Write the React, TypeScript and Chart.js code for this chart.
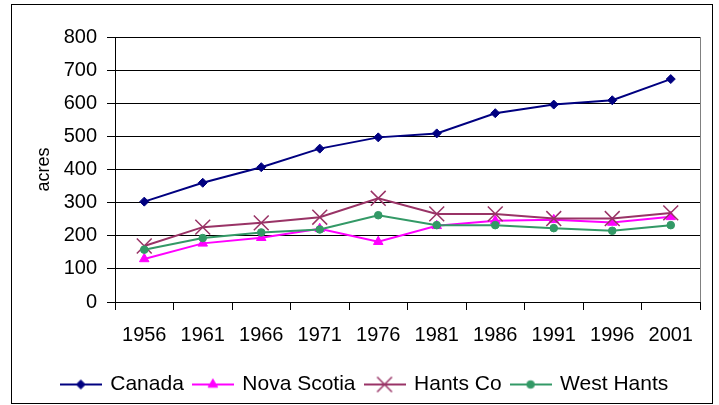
import React, { useEffect, useRef } from "react";
import { Chart, registerables } from "chart.js";

Chart.register(...registerables);

const years = ["1956", "1961", "1966", "1971", "1976", "1981", "1986", "1991", "1996", "2001"];
const canada = [303, 360, 407, 463, 497, 509, 570, 596, 609, 673];
const novaScotia = [130, 177, 194, 221, 182, 230, 245, 248, 240, 257];
const hantsCo = [169, 226, 239, 256, 313, 266, 266, 252, 252, 269];
const westHants = [158, 193, 210, 219, 262, 232, 232, 223, 215, 232];
const yMin = 0;
const yMax = 800;
const yStep = 100;

const FONT = "'Liberation Sans', Arial, sans-serif";

function drawMarker(ctx: CanvasRenderingContext2D, style: string, x: number, y: number, r: number, color: string, lw: number) {
  ctx.save();
  ctx.fillStyle = color;
  ctx.strokeStyle = color;
  ctx.lineWidth = lw;
  ctx.beginPath();
  if (style === "rectRot") {
    ctx.moveTo(x - r, y);
    ctx.lineTo(x, y - r);
    ctx.lineTo(x + r, y);
    ctx.lineTo(x, y + r);
    ctx.closePath();
    ctx.fill();
    ctx.stroke();
  } else if (style === "triangle") {
    const a = (2 * Math.PI) / 3;
    ctx.moveTo(x, y - r);
    ctx.lineTo(x + Math.sin(a) * r, y - Math.cos(a) * r);
    ctx.lineTo(x + Math.sin(2 * a) * r, y - Math.cos(2 * a) * r);
    ctx.closePath();
    ctx.fill();
    ctx.stroke();
  } else if (style === "crossRot") {
    const o = Math.cos(Math.PI / 4) * r;
    ctx.moveTo(x - o, y - o);
    ctx.lineTo(x + o, y + o);
    ctx.moveTo(x + o, y - o);
    ctx.lineTo(x - o, y + o);
    ctx.stroke();
  } else {
    ctx.arc(x, y, r, 0, Math.PI * 2);
    ctx.closePath();
    ctx.fill();
    ctx.stroke();
  }
  ctx.restore();
}

function makeIcon(color: string, style: string, r: number, markerLw: number): HTMLCanvasElement {
  const c = document.createElement("canvas");
  c.width = 42;
  c.height = 22;
  const ctx = c.getContext("2d")!;
  ctx.strokeStyle = color;
  ctx.lineWidth = 2;
  ctx.beginPath();
  ctx.moveTo(0, 11);
  ctx.lineTo(42, 11);
  ctx.stroke();
  drawMarker(ctx, style, 21, 11, r, color, markerLw);
  return c;
}

export default function App() {
  const ref = useRef<HTMLCanvasElement | null>(null);

  useEffect(() => {
    if (!ref.current) return;
    Chart.defaults.font.family = FONT;
    Chart.defaults.color = "#000";

    const styles = [
      { label: "Canada", data: canada, color: "#000080", pointStyle: "rectRot", r: 4.5, blw: 1, order: 4 },
      { label: "Nova Scotia", data: novaScotia, color: "#FF00FF", pointStyle: "triangle", r: 5.5, blw: 1, order: 3 },
      { label: "Hants Co", data: hantsCo, color: "#993366", pointStyle: "crossRot", r: 10.5, blw: 1.5, order: 2 },
      { label: "West Hants", data: westHants, color: "#339966", pointStyle: "circle", r: 3.8, blw: 1, order: 1 },
    ];
    const icons = styles.map((s) => makeIcon(s.color, s.pointStyle, s.r, s.blw));

    const rightBorder = {
      id: "rightBorder",
      beforeDatasetsDraw(chart: any) {
        const { ctx, chartArea } = chart;
        ctx.save();
        ctx.strokeStyle = "#808080";
        ctx.lineWidth = 1;
        ctx.beginPath();
        ctx.moveTo(Math.round(chartArea.right) + 0.5, chartArea.top);
        ctx.lineTo(Math.round(chartArea.right) + 0.5, chartArea.bottom);
        ctx.stroke();
        ctx.restore();
      },
    };

    const chart = new Chart(ref.current, {
      type: "line",
      data: {
        labels: years,
        datasets: styles.map((s) => ({
          label: s.label,
          data: s.data,
          borderColor: s.color,
          backgroundColor: s.color,
          pointBackgroundColor: s.color,
          pointBorderColor: s.color,
          pointStyle: s.pointStyle as any,
          pointRadius: s.r,
          pointBorderWidth: s.blw,
          borderWidth: 2,
          tension: 0,
          fill: false,
          order: s.order,
        })),
      },
      options: {
        animation: false,
        responsive: false,
        devicePixelRatio: 1,
        layout: { padding: { left: 30, right: 19, top: 37, bottom: 0 } },
        plugins: {
          tooltip: { enabled: false },
          legend: {
            position: "bottom",
            labels: {
              usePointStyle: true,
              pointStyleWidth: 38,
              padding: 10,
              color: "#000",
              font: { size: 21, family: FONT },
              sort: (a: any, b: any) => a.datasetIndex - b.datasetIndex,
              generateLabels: (c: any) => {
                const items = Chart.defaults.plugins.legend.labels.generateLabels(c);
                return items
                  .map((it: any) => ({ ...it, pointStyle: icons[it.datasetIndex], lineWidth: 0 }))
                  .sort((a: any, b: any) => a.datasetIndex - b.datasetIndex);
              },
            },
          },
        },
        scales: {
          x: {
            offset: true,
            grid: {
              display: true,
              drawOnChartArea: false,
              drawTicks: true,
              tickLength: 8,
              color: "#000",
              offset: true,
            },
            border: { display: true, color: "#000", width: 1 },
            ticks: {
              autoSkip: false,
              maxRotation: 0,
              minRotation: 0,
              padding: 13,
              color: "#000",
              font: { size: 20, family: FONT },
            },
            afterFit: (scale: any) => {
              scale.height = 62;
            },
          },
          y: {
            min: yMin,
            max: yMax,
            grid: {
              color: "#000",
              lineWidth: 1,
              drawTicks: true,
              tickLength: 8,
            },
            border: { display: true, color: "#000", width: 1 },
            ticks: {
              stepSize: yStep,
              padding: 10,
              color: "#000",
              font: { size: 20, family: FONT },
            },
            title: {
              display: true,
              text: "acres",
              color: "#000",
              font: { size: 18, family: FONT },
              padding: { top: 3, bottom: 0 },
            },
            afterFit: (scale: any) => {
              scale.width = 85;
            },
          },
        },
      },
      plugins: [rightBorder],
    });
    return () => chart.destroy();
  }, []);

  return (
    <div style={{ position: "fixed", left: 0, top: 0, width: 719, height: 405, background: "#fff" }}>
      <canvas ref={ref} width={719} height={405} style={{ display: "block", width: 719, height: 405 }} />
      <div
        style={{
          position: "absolute",
          left: 11,
          top: 4,
          width: 702,
          height: 400,
          boxSizing: "border-box",
          border: "1px solid #000",
          pointerEvents: "none",
        }}
      />
    </div>
  );
}
